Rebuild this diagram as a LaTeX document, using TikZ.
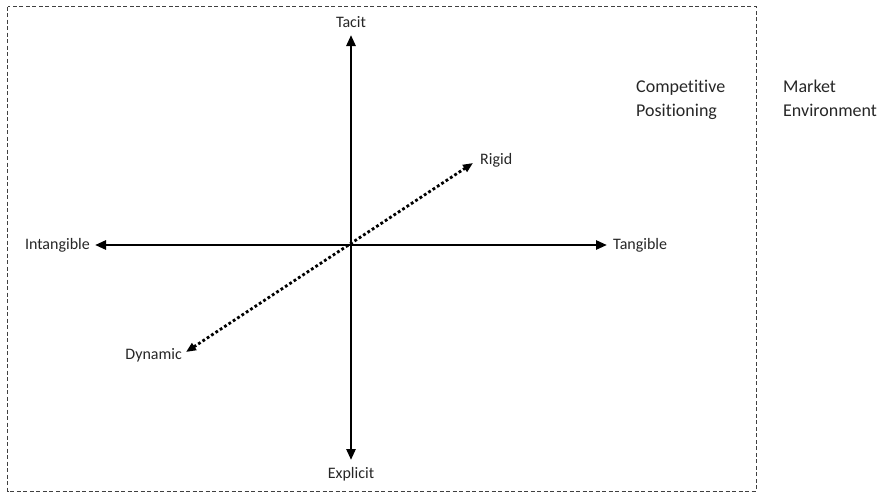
\documentclass[tikz,border=0pt]{standalone}
\usepackage{fontspec}
\setmainfont{Carlito}[Ligatures={NoCommon,NoContextual,NoRequired}, Contextuals=NoAlternate]
\usetikzlibrary{arrows.meta}
\usetikzlibrary{positioning}
\tikzset{
    axis_arrow/.style={
        {Triangle[length=11pt,width=9pt]}-{Triangle[length=11pt,width=9pt]},
        line width=2.6pt,
        draw=black
    },
    flex_arrow/.style={
        {Triangle[length=10pt,width=8pt]}-{Triangle[length=10pt,width=8pt]},
        line width=2.8pt,
        dash pattern=on 2.8pt off 2.4pt,
        draw=black
    }
}

\begin{document}
\begin{tikzpicture}[
    x=1pt, y=-1pt,
    node distance=4pt,
    axis_label/.style={font=\fontsize{16}{19}\selectfont, text=black!85, inner sep=2pt},
    side_text/.style={font=\fontsize{18}{24}\selectfont, text=black!85, align=left, inner sep=0pt, anchor=north west},
    frame_box/.style={draw=black!75, line width=0.9pt, dash pattern=on 4pt off 2.5pt}
]
    \useasboundingbox (0,0) rectangle (883,493);

    % Frame
    \draw[frame_box] (7.5,6.5) rectangle (756,491);

    % Axis ends
    \coordinate (o) at (351,245);
    \coordinate (tac) at (351,35);
    \coordinate (exp) at (351,460);
    \coordinate (int) at (95,245);
    \coordinate (tan) at (607,245);
    \coordinate (rig) at (473,163);
    \coordinate (dyn) at (186,352);

    % Labels
    \node (tacit) [axis_label, above=5pt of tac] {Tacit};
    \node (explicit) [axis_label, below=5pt of exp] {Explicit};
    \node (intangible) [axis_label, left=3pt of int] {Intangible};
    \node (tangible) [axis_label, right=4pt of tan] {Tangible};
    \node (rigid) [axis_label, right=5pt of rig, yshift=3pt] {Rigid};
    \node (dynamic) [axis_label, left=2pt of dyn, yshift=-3pt] {Dynamic};

    % Axes
    \draw[axis_arrow] (tac) -- (exp);
    \draw[axis_arrow] (int) -- (tan);
    \draw[flex_arrow] (dyn) -- (rig);

    % Side texts
    \node (comp) [side_text] at (636,80) {Competitive\\Positioning};
    \node (market) [side_text] at (783,80) {Market\\Environment};

\end{tikzpicture}
\end{document}
